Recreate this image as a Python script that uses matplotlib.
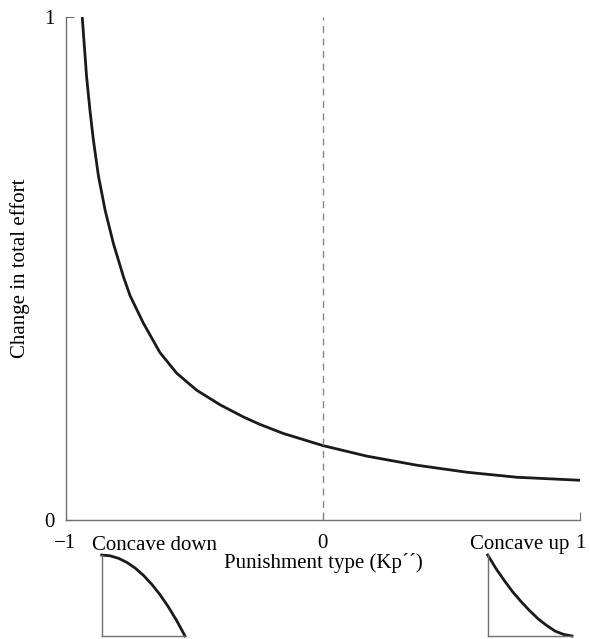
import matplotlib
matplotlib.use("Agg")
import matplotlib.pyplot as plt

# Main curve: values
punishment_type = [-0.935, -0.918, -0.905, -0.892, -0.872, -0.846, -0.814, -0.775,
                   -0.749, -0.698, -0.633, -0.568, -0.490, -0.399, -0.309, -0.244,
                   -0.153, 0.0, 0.171, 0.365, 0.560, 0.754, 1.0]
effort_change = [1.0, 0.881, 0.815, 0.757, 0.684, 0.616, 0.550, 0.484,
                 0.446, 0.392, 0.333, 0.292, 0.258, 0.229, 0.205, 0.190,
                 0.172, 0.148, 0.127, 0.109, 0.095, 0.085, 0.079]

# Inset sketches
down_x = [0.0, 0.1, 0.2, 0.3, 0.4, 0.5, 0.6, 0.7, 0.8, 0.9, 1.0]
down_y = [1.0, 0.99, 0.96, 0.91, 0.84, 0.75, 0.64, 0.51, 0.36, 0.19, 0.0]
up_x = [0.0, 0.1, 0.2, 0.3, 0.4, 0.5, 0.6, 0.7, 0.8, 0.9, 1.0]
up_y = [1.0, 0.83, 0.68, 0.54, 0.42, 0.31, 0.21, 0.13, 0.06, 0.02, 0.0]

x_ticks = [-1, 0, 1]
x_tick_labels = ["\u22121", "0", "1"]
y_ticks = [0, 1]
y_tick_labels = ["0", "1"]

W, H = 590, 639
plt.rcParams['font.family'] = ['Liberation Serif', 'DejaVu Serif']
fig = plt.figure(figsize=(W / 100, H / 100), dpi=100)

def fx(px):
    return px / W

def fy(py):
    return 1 - py / H

spine_col = "#707070"
curve_col = "#1a1a1a"

ax = fig.add_axes([fx(65.5), fy(520), fx(580) - fx(65.5), fy(17) - fy(520)])
ax.plot(punishment_type, effort_change, color=curve_col, lw=2.0,
        solid_capstyle='butt', solid_joinstyle='round')
ax.axvline(0, color="#888888", lw=1.0, ls=(0, (5, 4)))
ax.set_xlim(-1, 1)
ax.set_ylim(0, 1)
for s in ["top", "right"]:
    ax.spines[s].set_visible(False)
for s in ["left", "bottom"]:
    ax.spines[s].set_color(spine_col)
    ax.spines[s].set_linewidth(1.0)
ax.set_xticks(x_ticks)
ax.set_xticklabels(x_tick_labels)
ax.set_yticks(y_ticks)
ax.set_yticklabels(y_tick_labels)
ax.tick_params(axis='both', direction='in', length=6, color=spine_col, labelsize=15)
ax.tick_params(axis='x', pad=10)
ax.tick_params(axis='y', pad=8)
ax.set_ylabel("Change in total effort", fontsize=15, labelpad=10)

fig.text(fx(323), fy(563), "Punishment type (Kp\u00b4\u00b4)", fontsize=15, ha='center', va='center')
fig.text(fx(92), fy(545), "Concave down", fontsize=15, ha='left', va='center')
fig.text(fx(470), fy(545), "Concave up", fontsize=15, ha='left', va='center')

def inset(left_px, right_px, xs, ys):
    a = fig.add_axes([fx(left_px), fy(636), fx(right_px) - fx(left_px), fy(555) - fy(636)])
    a.plot(xs, ys, color=curve_col, lw=2.0, clip_on=False, solid_joinstyle='round')
    a.set_xlim(0, 1)
    a.set_ylim(0, 1)
    a.set_xticks([])
    a.set_yticks([])
    for s in ["top", "right"]:
        a.spines[s].set_visible(False)
    for s in ["left", "bottom"]:
        a.spines[s].set_color(spine_col)
        a.spines[s].set_linewidth(1.0)
    a.patch.set_alpha(0)
    return a

inset(101.7, 185, down_x, down_y)
inset(487.7, 572, up_x, up_y)

fig.savefig("out.png", dpi=100)
